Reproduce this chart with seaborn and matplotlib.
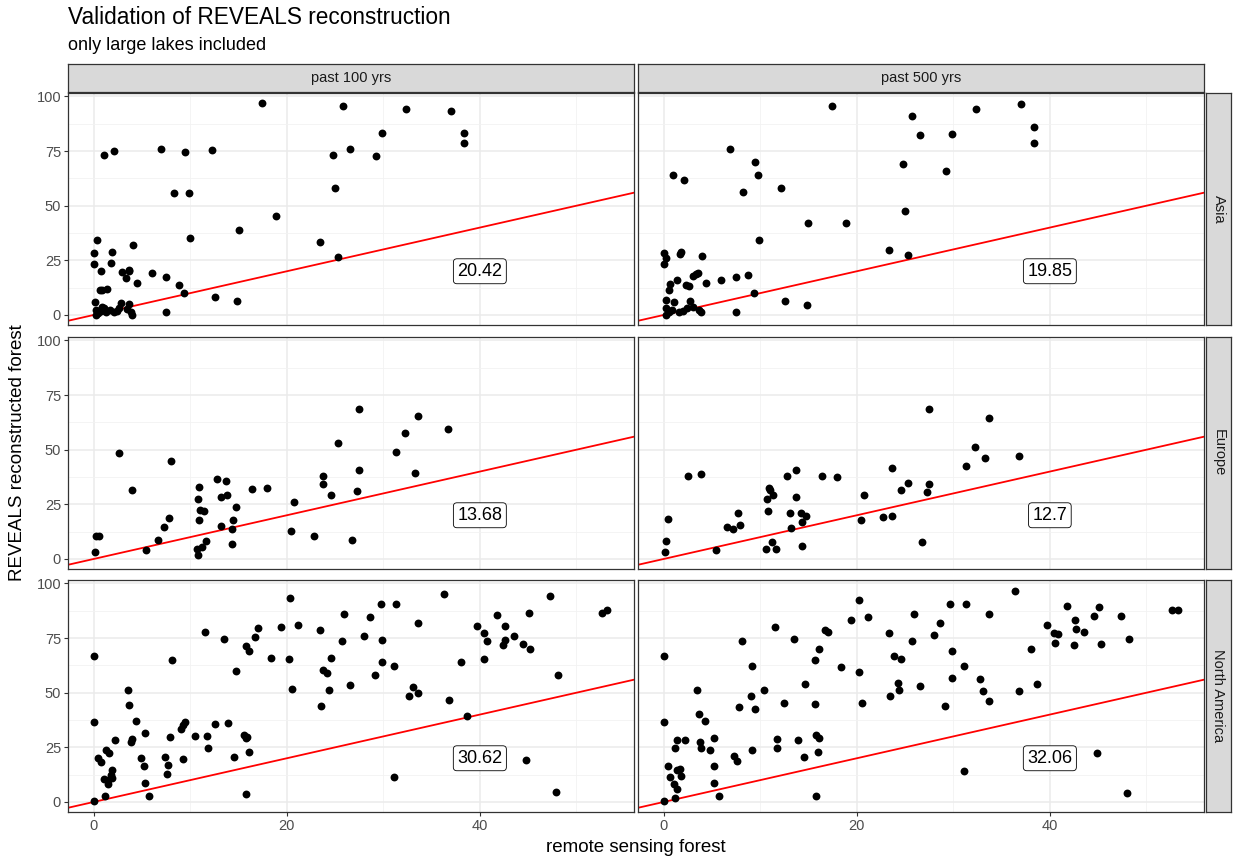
import numpy as np
import pandas as pd
import seaborn as sns
import matplotlib.pyplot as plt
from matplotlib.ticker import MultipleLocator

sns.set_theme(style="whitegrid")
plt.rcParams['font.family'] = ['Liberation Sans', 'DejaVu Sans']

regions = ["Asia", "Europe", "North America"]
periods = ["past 100 yrs", "past 500 yrs"]
rmse_100 = [20.42, 13.68, 30.62]
rmse_500 = [19.85, 12.7, 32.06]

# Asia
asia_100_x = [17.4, 25.8, 32.3, 37.0, 38.4, 38.4, 29.9, 1.1, 2.1, 7.0, 9.4, 12.2, 24.8, 26.5, 29.2,
              8.3, 9.9, 25.0, 18.9, 15.0, 10.0, 23.4, 25.3, 0.3, 0.0, 0.0, 1.9, 1.8, 4.1, 0.7, 2.9,
              3.6, 3.7, 3.3, 4.5, 6.0, 7.5, 8.8, 9.3, 12.6, 14.8, 7.5, 0.6, 0.9, 1.4, 0.1,
              0.2, 0.4, 0.8, 1.1, 1.3, 1.7, 2.1, 2.4, 2.6, 2.8, 3.7, 3.9, 4.0, 3.4, 0.2, 0.9]
asia_100_y = [96.8, 95.5, 94.4, 93.3, 83.5, 78.9, 83.5, 73.3, 75.2, 76.1, 74.5, 75.6, 73.0, 75.8, 72.9,
              55.9, 55.9, 58.3, 45.3, 38.9, 35.3, 33.2, 26.7, 34.4, 28.2, 23.5, 28.8, 23.9, 32.0, 20.3, 19.7,
              20.8, 20.0, 16.7, 14.4, 19.2, 17.6, 13.8, 10.0, 8.2, 6.4, 1.4, 11.5, 11.2, 12.1, 5.9,
              2.3, 0.7, 1.8, 3.0, 1.5, 2.2, 1.2, 1.8, 3.0, 5.3, 4.8, 1.2, 0.0, 2.7, 0.0, 3.8]
asia_500_x = [17.4, 25.7, 32.4, 37.0, 38.4, 38.4, 26.5, 29.9, 6.9, 9.4, 9.8, 1.0, 2.1, 8.2, 12.1,
              24.8, 29.2, 25.0, 14.9, 18.9, 9.9, 23.3, 25.3, 0.0, 0.2, 0.0, 1.8, 1.7, 4.0, 3.5,
              3.0, 3.3, 1.4, 0.6, 0.5, 2.3, 2.6, 4.4, 5.9, 7.5, 8.7, 9.3, 12.6, 14.8, 7.5,
              0.2, 1.1, 2.7, 0.2, 0.5, 0.9, 1.6, 2.0, 2.4, 3.0, 3.6, 3.9, 0.2]
asia_500_y = [95.5, 90.9, 94.2, 96.5, 86.1, 78.6, 82.4, 82.7, 76.1, 70.0, 64.1, 63.9, 61.7, 56.2, 58.0,
              69.1, 65.9, 47.7, 42.0, 42.3, 34.2, 29.8, 27.6, 28.3, 26.1, 23.5, 28.8, 27.7, 26.8, 19.4,
              17.9, 18.8, 16.2, 14.1, 11.5, 13.6, 13.3, 14.4, 16.2, 17.6, 18.5, 10.0, 6.2, 4.5, 1.2,
              6.8, 5.8, 6.4, 3.0, 1.5, 2.3, 1.2, 1.8, 3.0, 3.8, 2.3, 1.2, 0.0]

# Europe
europe_100_x = [27.5, 33.6, 36.7, 32.2, 25.3, 31.3, 27.5, 33.3, 2.6, 8.0, 4.0, 23.7, 23.7, 24.6, 27.3,
                16.4, 17.9, 12.8, 13.7, 13.8, 13.2, 10.9, 10.8, 11.0, 11.4, 14.7, 10.9, 14.4, 13.2,
                14.3, 14.3, 11.6, 11.2, 10.7, 10.8, 20.7, 20.4, 22.8, 26.8, 7.8, 7.3, 6.7, 5.4,
                0.2, 0.5, 0.1]
europe_100_y = [68.6, 65.3, 59.7, 57.6, 52.9, 48.8, 40.9, 39.4, 48.6, 44.7, 31.4, 37.9, 34.1, 29.1, 30.9,
                32.0, 32.4, 36.4, 35.5, 29.5, 28.5, 32.9, 27.6, 22.3, 22.0, 23.8, 17.7, 17.9, 15.2,
                13.8, 7.0, 8.0, 5.6, 4.5, 1.8, 26.1, 12.7, 10.5, 8.6, 18.9, 14.4, 8.5, 4.1,
                10.3, 10.6, 3.3]
europe_500_x = [27.5, 33.7, 32.2, 33.3, 36.8, 31.3, 23.6, 25.3, 24.6, 27.5, 27.3, 20.7, 20.4, 22.7, 23.6,
                26.8, 2.5, 3.9, 12.8, 13.7, 16.4, 17.9, 10.9, 11.3, 11.0, 10.7, 13.7, 10.8, 13.1,
                14.2, 14.7, 14.3, 13.2, 14.3, 11.2, 10.6, 11.6, 7.7, 7.9, 6.5, 7.2, 5.4, 0.4, 0.2, 0.1]
europe_500_y = [68.6, 64.7, 51.1, 46.4, 47.1, 42.4, 41.5, 34.7, 31.5, 34.2, 30.8, 29.1, 17.7, 19.1, 19.8,
                7.7, 37.9, 38.8, 38.0, 40.5, 38.2, 37.3, 32.7, 29.4, 31.5, 27.4, 28.5, 22.0, 20.9,
                21.1, 19.5, 16.7, 14.1, 5.9, 7.7, 4.4, 4.5, 20.9, 15.6, 14.5, 13.8, 4.2, 18.3, 8.2, 3.2]

# North America
namerica_100_x = [0.0, 0.0, 0.0, 8.1, 11.5, 13.5, 14.7, 15.8, 16.1, 16.7, 17.0, 18.4, 19.4, 20.3, 20.2,
                  20.5, 21.2, 23.4, 23.5, 23.8, 24.2, 24.4, 24.6, 25.7, 25.9, 26.5, 28.0, 28.6, 29.1,
                  29.8, 29.9, 29.9, 31.3, 31.1, 31.1, 32.7, 33.1, 33.6, 33.6, 36.3, 36.8, 38.0, 38.7,
                  39.7, 40.4, 40.7, 40.4, 41.8, 42.6, 42.6, 42.4, 43.5, 44.5, 45.2, 45.1, 47.3, 48.1,
                  52.7, 53.2, 44.8, 47.9, 15.8, 15.6, 15.9, 15.8, 16.1, 14.5, 13.9, 12.6, 11.7, 11.8,
                  10.5, 9.4, 9.2, 9.0, 7.9, 9.2, 7.4, 7.7, 7.6, 5.7, 5.3, 5.2, 4.9, 5.3, 4.4, 3.7,
                  3.5, 4.0, 3.9, 2.2, 1.3, 1.6, 0.4, 0.7, 1.9, 1.8, 1.1, 1.5, 1.9, 1.5, 1.2]
namerica_100_y = [66.8, 36.4, 0.5, 64.8, 78.0, 74.8, 59.8, 71.4, 69.1, 75.5, 79.4, 66.1, 80.0, 93.3, 65.5,
                  51.8, 80.9, 78.6, 43.9, 60.2, 59.1, 51.1, 65.9, 73.6, 85.9, 53.6, 75.9, 84.7, 57.9,
                  90.6, 74.2, 64.1, 90.6, 62.4, 11.2, 48.6, 52.7, 49.7, 82.0, 95.3, 46.7, 63.9, 39.5,
                  80.5, 77.4, 73.8, 65.6, 85.5, 80.6, 74.2, 71.7, 75.9, 72.4, 70.2, 86.7, 94.5, 58.0,
                  86.5, 87.7, 19.1, 4.5, 3.8, 30.6, 29.8, 29.2, 22.9, 20.5, 36.2, 35.5, 30.3, 24.5,
                  30.3, 36.4, 35.2, 33.6, 29.7, 19.8, 20.6, 16.8, 13.0, 2.6, 8.8, 16.4, 20.3, 31.4, 37.1, 44.4,
                  51.4, 28.9, 27.3, 28.3, 23.9, 22.4, 20.0, 18.5, 14.4, 12.4, 10.6, 10.2, 10.9, 8.0, 2.9]
namerica_500_x = [0.0, 0.0, 0.0, 0.4, 0.6, 1.1, 1.4, 1.2, 1.2, 1.4, 2.2, 1.4, 1.7, 1.8, 3.4, 3.6, 4.3,
                  3.8, 3.9, 4.8, 5.2, 5.2, 5.2, 5.7, 7.3, 7.6, 7.8, 8.1, 9.0, 9.1, 9.4, 9.1, 10.4,
                  11.5, 11.7, 11.7, 12.5, 13.5, 13.9, 14.5, 14.6, 15.7, 15.7, 16.1, 15.8, 16.1, 16.0,
                  15.8, 16.7, 17.0, 18.4, 19.4, 20.2, 20.2, 20.5, 21.2, 23.3, 23.4, 23.9, 24.6, 24.3,
                  24.4, 25.7, 25.9, 26.5, 28.0, 28.6, 29.1, 29.7, 29.9, 29.9, 31.1, 31.3, 31.1, 32.8,
                  33.1, 33.7, 33.7, 36.4, 36.8, 38.0, 38.7, 39.7, 40.4, 40.8, 40.5, 41.8, 42.6, 42.7,
                  42.5, 43.5, 44.6, 45.1, 45.3, 47.4, 48.2, 44.9, 48.0, 52.7, 53.3]
namerica_500_y = [66.8, 36.4, 0.5, 16.5, 11.5, 8.3, 6.1, 1.8, 24.8, 28.5, 28.3, 14.4, 15.2, 12.0, 51.4,
                  40.2, 37.1, 27.3, 24.7, 23.8, 29.2, 16.4, 8.9, 2.6, 21.2, 18.6, 43.5, 73.9, 48.5,
                  62.1, 42.4, 23.8, 51.1, 80.2, 28.6, 24.5, 45.5, 74.7, 28.3, 20.8, 53.8, 44.8, 65.0,
                  70.0, 30.6, 29.2, 22.7, 2.9, 78.9, 77.6, 61.7, 83.5, 59.5, 92.3, 45.5, 84.7, 77.4,
                  48.3, 67.0, 65.3, 54.5, 51.1, 73.6, 85.9, 53.3, 76.4, 81.8, 43.9, 90.6, 69.1, 56.7,
                  62.3, 90.6, 14.1, 56.4, 50.8, 46.2, 86.1, 96.5, 50.9, 69.8, 54.2, 81.1, 77.4, 76.7,
                  72.6, 89.7, 83.3, 79.1, 71.8, 77.7, 85.3, 89.2, 72.1, 85.3, 74.7, 22.6, 3.9, 87.7, 87.7]

xs = {("Asia", "past 100 yrs"): (asia_100_x, asia_100_y),
      ("Asia", "past 500 yrs"): (asia_500_x, asia_500_y),
      ("Europe", "past 100 yrs"): (europe_100_x, europe_100_y),
      ("Europe", "past 500 yrs"): (europe_500_x, europe_500_y),
      ("North America", "past 100 yrs"): (namerica_100_x, namerica_100_y),
      ("North America", "past 500 yrs"): (namerica_500_x, namerica_500_y)}

rows = []
for (reg, per), (px, py) in xs.items():
    for a, b in zip(px, py):
        rows.append({"region": reg, "period": per, "rs": a, "reveals": b})
df = pd.DataFrame(rows)
labels = {("Asia", "past 100 yrs"): rmse_100[0], ("Europe", "past 100 yrs"): rmse_100[1],
          ("North America", "past 100 yrs"): rmse_100[2], ("Asia", "past 500 yrs"): rmse_500[0],
          ("Europe", "past 500 yrs"): rmse_500[1], ("North America", "past 500 yrs"): rmse_500[2]}

W, H = 1236, 859
fig = plt.figure(figsize=(W / 100, H / 100), dpi=100)
fig.patch.set_facecolor("white")

col_left = [68, 638]
col_w = 566
row_top = [93, 337, 580]
row_h = 232
border = "#333333"
strip_fc = "#D9D9D9"


def px_rect(x0, top, w, h):
    return [x0 / W, 1 - (top + h) / H, w / W, h / H]


for i, reg in enumerate(regions):
    for j, per in enumerate(periods):
        ax = fig.add_axes(px_rect(col_left[j], row_top[i], col_w, row_h))
        sub = df[(df.region == reg) & (df.period == per)]
        ax.axline((0, 0), slope=1, color="red", lw=1.3, zorder=2)
        sns.scatterplot(data=sub, x="rs", y="reveals", ax=ax, color="black",
                        s=32, linewidth=0, zorder=3, legend=False)
        ax.text(40, 20, str(labels[(reg, per)]), fontsize=13, color="black",
                ha="center", va="center", zorder=4,
                bbox=dict(boxstyle="round,pad=0.22,rounding_size=0.2", fc="white",
                          ec="black", lw=0.6))
        ax.set_xlim(-2.67, 55.97)
        ax.set_ylim(-4.6, 101.6)
        ax.xaxis.set_major_locator(MultipleLocator(20))
        ax.xaxis.set_minor_locator(MultipleLocator(10))
        ax.yaxis.set_major_locator(MultipleLocator(25))
        ax.yaxis.set_minor_locator(MultipleLocator(12.5))
        ax.set_facecolor("white")
        ax.grid(which="major", color="#EBEBEB", lw=1.1)
        ax.grid(which="minor", color="#F2F2F2", lw=0.6)
        ax.set_axisbelow(True)
        for sp in ax.spines.values():
            sp.set_color(border)
            sp.set_linewidth(0.9)
        ax.tick_params(which="major", length=3, width=0.8, color=border,
                       labelsize=10.5, labelcolor="#4D4D4D", pad=2, left=True, bottom=True)
        ax.tick_params(which="minor", length=0)
        ax.set_xlabel("")
        ax.set_ylabel("")
        if j == 1:
            ax.tick_params(labelleft=False, left=False)
        if i < 2:
            ax.tick_params(labelbottom=False, bottom=False)

# top strips
for j, per in enumerate(periods):
    sax = fig.add_axes(px_rect(col_left[j], 64, col_w, 28))
    sax.set_facecolor(strip_fc)
    sax.set_xticks([])
    sax.set_yticks([])
    for sp in sax.spines.values():
        sp.set_color(border)
        sp.set_linewidth(0.9)
    sax.text(0.5, 0.5, per, ha="center", va="center", fontsize=10.5, color="#1A1A1A",
             transform=sax.transAxes)

# right strips
for i, reg in enumerate(regions):
    sax = fig.add_axes(px_rect(1206, row_top[i], 25, row_h))
    sax.set_facecolor(strip_fc)
    sax.set_xticks([])
    sax.set_yticks([])
    for sp in sax.spines.values():
        sp.set_color(border)
        sp.set_linewidth(0.9)
    sax.text(0.5, 0.5, reg, ha="center", va="center", fontsize=10.5, color="#1A1A1A",
             rotation=-90, transform=sax.transAxes)

fig.text(68 / W, 1 - 17 / H, "Validation of REVEALS reconstruction", fontsize=16.3,
         ha="left", va="center", color="black")
fig.text(68 / W, 1 - 45 / H, "only large lakes included", fontsize=13,
         ha="left", va="center", color="black")
fig.text(636 / W, 1 - 847 / H, "remote sensing forest", fontsize=13.5,
         ha="center", va="center", color="black")
fig.text(18 / W, 1 - 453 / H, "REVEALS reconstructed forest", fontsize=13.5,
         ha="center", va="center", rotation=90, color="black")

fig.savefig("out.png", dpi=100, facecolor="white")
